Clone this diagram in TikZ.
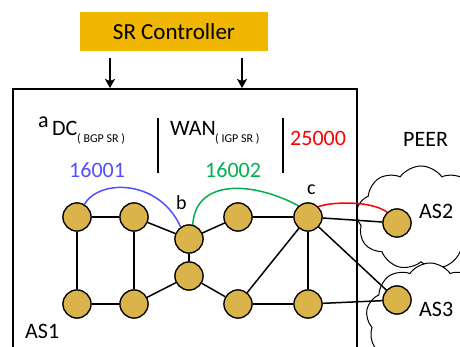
\documentclass[tikz,border=0pt]{standalone}
\usepackage{fontspec}
\setmainfont{Carlito}
\usetikzlibrary{arrows.meta,shapes.symbols}
\definecolor{ctrlgold}{RGB}{240,182,0}
\definecolor{routergold}{RGB}{218,180,74}
\definecolor{dcblue}{RGB}{80,80,255}
\definecolor{wangreen}{RGB}{0,176,80}
\definecolor{peerred}{RGB}{255,0,0}
\tikzset{
  router/.style={circle, draw=black, line width=1.2pt, fill=routergold, minimum size=28pt, inner sep=0pt},
  link/.style={line width=1.5pt, black},
  lbl/.style={anchor=base west, inner sep=0pt, font=\fontsize{22}{24}\selectfont},
  sublbl/.style={anchor=base west, inner sep=0pt, font=\fontsize{12}{14}\selectfont},
  asCloud/.style={cloud, cloud puffs=9, cloud puff arc=110, aspect=1.15, draw=black, fill=white, line width=1pt, inner sep=0pt},
  ctrlarrow/.style={line width=1.5pt, -{Stealth[length=9pt,width=10pt,inset=2pt]}},
  divider/.style={line width=1.8pt}
}
\begin{document}
\begin{tikzpicture}[x=1pt,y=-1pt]
\useasboundingbox (0,0) rectangle (460,347);

% controller
\node[fill=ctrlgold, minimum width=188pt, minimum height=39pt, inner sep=0pt,
      font=\fontsize{23}{25}\selectfont] (ctrl) at (174,31.5) {SR Controller};
\coordinate (arrA) at (110,58);
\coordinate (arrB) at (242,58);
\coordinate (arrAend) at (110,88);
\coordinate (arrBend) at (242,88);
\draw[ctrlarrow] (arrA) -- (arrAend);
\draw[ctrlarrow] (arrB) -- (arrBend);

% peer clouds
\node[asCloud, minimum width=130pt, minimum height=104pt] (cloudA) at (421,218) {};
\node[asCloud, minimum width=128pt, minimum height=112pt] (cloudB) at (430,319) {};

% operator domain box
\draw[line width=2.5pt] (13,380) -- (13,89) -- (357,89) -- (357,380);

% section headers
\node[lbl] (la) at (38,128) {a};
\node[lbl] (ldc) at (52,136) {DC};
\node[sublbl] (ldcs) at (77,143) {( BGP SR )};
\node[lbl] (lwan) at (170,136) {WAN};
\node[sublbl] (lwans) at (215,143) {( IGP SR )};
\node[lbl, text=peerred] (lpeer) at (290,146) {25000};
\node[lbl] (lpeername) at (403,147) {PEER};
\node[lbl, text=dcblue] (sid1) at (69,178) {16001};
\node[lbl, text=wangreen] (sid2) at (205,178) {16002};
\draw[divider] (158,118) -- (158,173);
\draw[divider] (283,118) -- (283,173);

% routers
\node[router] (n1) at (77,217) {};
\node[router] (n2) at (134,217) {};
\node[router] (b)  at (189,239) {};
\node[router] (b2) at (189,276) {};
\node[router] (n5) at (77,304) {};
\node[router] (n6) at (134,304) {};
\node[router] (m1) at (238,217) {};
\node[router] (c)  at (308,217) {};
\node[router] (m2) at (238,304) {};
\node[router] (c2) at (308,304) {};
\node[router] (as2) at (397,223) {};
\node[router] (as3) at (397,300) {};

% links
\draw[link] (n1) -- (n2);
\draw[link] (n1) -- (n5);
\draw[link] (n2) -- (n6);
\draw[link] (n5) -- (n6);
\draw[link] (n2) -- (b);
\draw[link] (b) -- (b2);
\draw[link] (b) -- (m1);
\draw[link] (n6) -- (b2);
\draw[link] (b2) -- (m2);
\draw[link] (m1) -- (c);
\draw[link] (c) -- (m2);
\draw[link] (c) -- (c2);
\draw[link] (m2) -- (c2);
\draw[link] (c) -- (as2);
\draw[link] (c) -- (as3);
\draw[link] (c2) -- (as3);

% segment paths
\draw[dcblue, line width=1.5pt] (n1.60) .. controls (100,178) and (160,180) .. (b.125);
\draw[wangreen, line width=1.5pt] (b.75) .. controls (195,180) and (250,180) .. (c.130);
\draw[peerred, line width=1.5pt] (c.45) .. controls (330,202) and (370,200) .. (as2.132);

% redraw routers above the paths
\foreach \r in {n1,n2,b,b2,n5,n6,m1,c,m2,c2,as2,as3}{
  \path (\r) node[router] {};
}

% router and AS labels
\node[lbl, font=\fontsize{20}{22}\selectfont] (lb) at (176,210) {b};
\node[lbl, font=\fontsize{20}{22}\selectfont] (lc) at (307,195) {c};
\node[lbl] (las1) at (25,338) {AS1};
\node[lbl] (las2) at (419,219) {AS2};
\node[lbl] (las3) at (419,316) {AS3};
\end{tikzpicture}
\end{document}
